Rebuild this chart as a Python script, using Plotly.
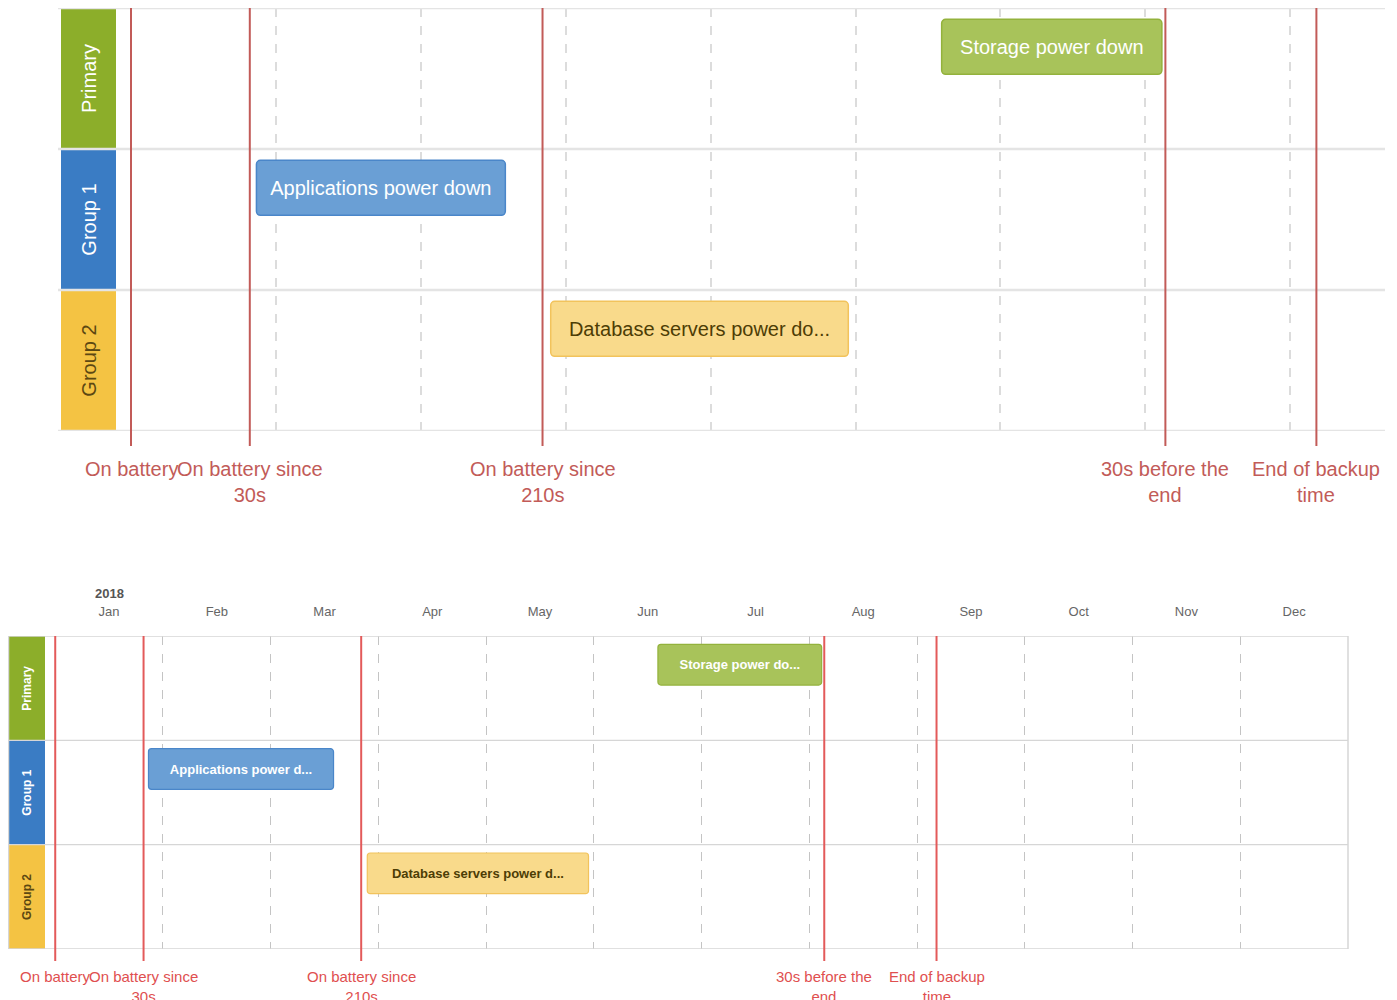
import plotly.graph_objects as go
import pandas as pd

# ---------------- data ----------------
rows = ["Primary", "Group 1", "Group 2"]
row_colors = ["#8cae2a", "#3a7cc4", "#f4c343"]
row_text_colors = ["#ffffff", "#ffffff", "#5c4812"]

task_rows = [0, 1, 2]
task_names_top = ["Storage power down", "Applications power down", "Database servers power do..."]
task_names_bottom = ["Storage power do...", "Applications power d...", "Database servers power d..."]
task_starts = ["2018-06-18 20:00", "2018-01-27 20:00", "2018-03-28 19:00"]
task_ends = ["2018-08-04 13:00", "2018-03-19 02:00", "2018-05-30 11:00"]
task_fill = ["#a8c35a", "#6a9fd5", "#f9da8b"]
task_border = ["#93b23c", "#4a86c9", "#f2c35c"]
task_text_colors = ["#ffffff", "#ffffff", "#4d3d05"]

marker_names = ["On battery", "On battery since<br>30s", "On battery since<br>210s",
                "30s before the<br>end", "End of backup<br>time"]
marker_dates = ["2018-01-01 00:00", "2018-01-26 10:00", "2018-03-27 01:00",
                "2018-08-05 07:00", "2018-09-06 10:00"]

months = ["Jan", "Feb", "Mar", "Apr", "May", "Jun", "Jul", "Aug", "Sep", "Oct", "Nov", "Dec"]
year_label = "2018"

# ---------------- helpers ----------------
OFF = 8                      # page body margin
W, H = 1397 - OFF, 1000 - OFF
FONT = "Liberation Sans, Arial, sans-serif"


def px(p):
    return min(1.0, max(0.0, (p - OFF) / W))


def py(p):
    return min(1.0, max(0.0, 1 - (p - OFF) / H))


def month_pos(s):
    t = pd.Timestamp(s)
    return (t.month - 1) + (t.day - 1 + t.hour / 24 + t.minute / 1440) / t.days_in_month


starts = [month_pos(s) for s in task_starts]
durs = [month_pos(e) - month_pos(s) for s, e in zip(task_starts, task_ends)]
mpos = [month_pos(d) for d in marker_dates]

fig = go.Figure()

# ---------- top chart ----------
fig.add_trace(go.Bar(
    x=[1, 1, 1], y=[0, 1, 2], base=0, orientation="h", offset=0, width=1,
    xaxis="x3", yaxis="y",
    marker=dict(color=row_colors, line=dict(width=0)),
    text=rows, textposition="inside", insidetextanchor="middle", textangle=-90,
    textfont=dict(size=20, color=row_text_colors, family=FONT),
    hoverinfo="skip", showlegend=False))

fig.add_trace(go.Bar(
    x=durs, y=task_rows, base=starts, orientation="h", offset=0.08, width=0.39,
    xaxis="x", yaxis="y",
    marker=dict(color=task_fill, line=dict(color=task_border, width=1.5), cornerradius=4),
    text=task_names_top, textposition="inside", insidetextanchor="middle", textangle=0,
    textfont=dict(size=20, color=task_text_colors, family=FONT),
    hoverinfo="skip", showlegend=False))

# ---------- bottom chart ----------
fig.add_trace(go.Bar(
    x=[1, 1, 1], y=[0, 1, 2], base=0, orientation="h", offset=0, width=1,
    xaxis="x4", yaxis="y2",
    marker=dict(color=row_colors, line=dict(width=0)),
    text=["<b>%s</b>" % r for r in rows], textposition="inside", insidetextanchor="middle",
    textangle=-90,
    textfont=dict(size=12, color=row_text_colors, family=FONT),
    hoverinfo="skip", showlegend=False))

fig.add_trace(go.Bar(
    x=durs, y=task_rows, base=starts, orientation="h", offset=0.08, width=0.39,
    xaxis="x2", yaxis="y2",
    marker=dict(color=task_fill, line=dict(color=task_border, width=1.2), cornerradius=3),
    text=["<b>%s</b>" % t for t in task_names_bottom], textposition="inside",
    insidetextanchor="middle", textangle=0,
    textfont=dict(size=13, color=task_text_colors, family=FONT),
    hoverinfo="skip", showlegend=False))

shapes = []
annotations = []

# top row separators
for i in range(4):
    shapes.append(dict(type="line", xref="paper", yref="y", x0=px(58), x1=px(1385),
                       y0=i, y1=i, line=dict(color="#e4e4e4", width=2.5), layer="above"))
# bottom frame and row separators
shapes.append(dict(type="rect", xref="paper", yref="y2", x0=px(8.5), x1=px(1348), y0=0, y1=3,
                   line=dict(color="#d6d6d6", width=1.5), layer="above"))
for i in (1, 2):
    shapes.append(dict(type="line", xref="paper", yref="y2", x0=px(8), x1=px(1348),
                       y0=i, y1=i, line=dict(color="#d6d6d6", width=1.2), layer="above"))

# marker lines + labels
for name, p in zip(marker_names, mpos):
    shapes.append(dict(type="line", xref="x", yref="y domain", x0=p, x1=p, y0=-15 / 423, y1=1,
                       line=dict(color="#c25b58", width=2), layer="above"))
    annotations.append(dict(xref="x", yref="y domain", x=p, y=-25 / 423, yanchor="top",
                            xanchor="center", text=name, showarrow=False, align="center",
                            font=dict(size=20, color="#c25b58", family=FONT)))
    shapes.append(dict(type="line", xref="x2", yref="y2 domain", x0=p, x1=p, y0=-12 / 313, y1=1,
                       line=dict(color="#e35a5a", width=2), layer="above"))
    annotations.append(dict(xref="x2", yref="y2 domain", x=p, y=-17 / 313, yanchor="top",
                            xanchor="center", text=name, showarrow=False, align="center",
                            font=dict(size=15, color="#e04f4f", family=FONT)))

annotations.append(dict(xref="x2", yref="paper", x=0.5, y=py(593), yanchor="middle",
                        xanchor="center", text="<b>%s</b>" % year_label, showarrow=False,
                        font=dict(size=13, color="#555555", family=FONT)))

fig.update_layout(
    width=W, height=H, margin=dict(l=0, r=0, t=0, b=0),
    paper_bgcolor="white", plot_bgcolor="white",
    showlegend=False, barmode="overlay",
    font=dict(family=FONT),
    xaxis=dict(domain=[px(116), px(1385)], range=[-0.1035, 8.654], anchor="y",
               tickmode="array", tickvals=[i + 0.5 for i in range(9)], showticklabels=False,
               ticks="", showgrid=False, zeroline=False, showline=False,
               minor=dict(tickmode="array", tickvals=list(range(1, 9)), showgrid=True,
                          gridcolor="#dcdcdc", griddash="dash", gridwidth=1.5, ticks="")),
    yaxis=dict(domain=[py(431), py(8)], range=[3, 0], anchor="x",
               showgrid=False, showticklabels=False, zeroline=False, ticks=""),
    xaxis3=dict(domain=[px(61), px(116)], range=[0, 1], anchor="y", visible=False),
    xaxis2=dict(domain=[px(45), px(1348)], range=[-0.095, 12], anchor="y2", side="top",
                tickmode="array", tickvals=[i + 0.5 for i in range(12)], ticktext=months,
                ticks="outside", ticklen=14, tickcolor="rgba(0,0,0,0)",
                tickfont=dict(size=13, color="#666666", family=FONT),
                showgrid=False, zeroline=False, showline=False,
                minor=dict(tickmode="array", tickvals=list(range(1, 12)), showgrid=True,
                           gridcolor="#c4c4c4", griddash="dash", gridwidth=1, ticks="")),
    yaxis2=dict(domain=[py(949), py(636)], range=[3, 0], anchor="x2",
                showgrid=False, showticklabels=False, zeroline=False, ticks=""),
    xaxis4=dict(domain=[px(8), px(45)], range=[0, 1], anchor="y2", visible=False),
    shapes=shapes, annotations=annotations,
)

fig.write_html("out.html")
